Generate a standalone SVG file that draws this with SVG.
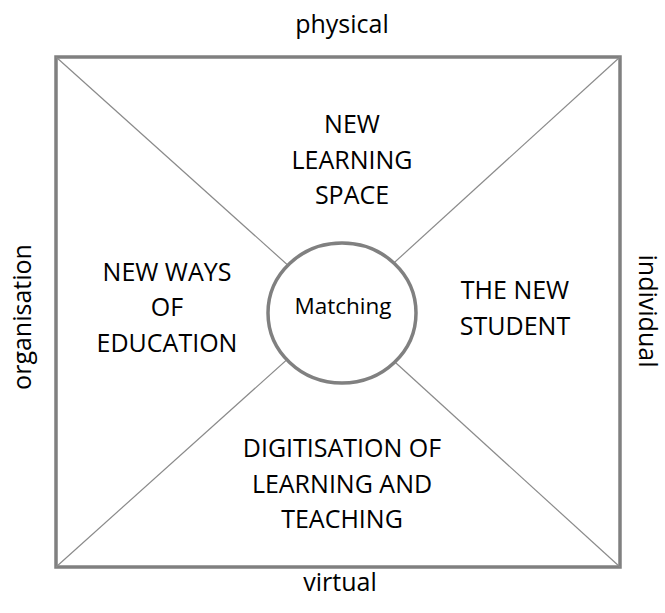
<svg xmlns="http://www.w3.org/2000/svg" width="665" height="613" viewBox="0 0 665 613">
<style>
.t{font-family:"Open Sans","Liberation Sans",sans-serif;font-size:25px;fill:#000;text-anchor:middle}
.l{font-family:"Open Sans","Liberation Sans",sans-serif;font-size:25px;fill:#000;text-anchor:middle}
.d{stroke:#8a8a8a;stroke-width:1.2;fill:none}
</style>
<rect width="665" height="613" fill="#fff"/>
<g id="frame">
<rect x="56" y="57" width="564" height="510" fill="#fff" stroke="#808080" stroke-width="3.5"/>
</g>
<g id="connectors">
<line class="d" x1="56" y1="57" x2="340" y2="312"/>
<line class="d" x1="620" y1="57" x2="340" y2="312"/>
<line class="d" x1="56" y1="567" x2="340" y2="312"/>
<line class="d" x1="620" y1="567" x2="340" y2="312"/>
</g>
<g id="matching">
<ellipse cx="342" cy="313" rx="74" ry="70" fill="#fff" stroke="#808080" stroke-width="3.5"/>
<text class="t" x="343" y="314" style="font-size:22.5px">Matching</text>
</g>
<g id="space">
<text class="t" x="352" y="133">NEW</text>
<text class="t" x="352" y="169">LEARNING</text>
<text class="t" x="352" y="204">SPACE</text>
</g>
<g id="education">
<text class="t" x="167" y="281">NEW WAYS</text>
<text class="t" x="167" y="316">OF</text>
<text class="t" x="167" y="352">EDUCATION</text>
</g>
<g id="student">
<text class="t" x="515" y="299">THE NEW</text>
<text class="t" x="515" y="335">STUDENT</text>
</g>
<g id="digitisation">
<text class="t" x="342" y="457">DIGITISATION OF</text>
<text class="t" x="342" y="493">LEARNING AND</text>
<text class="t" x="342" y="528">TEACHING</text>
</g>
<g id="labels">
<text class="l" x="342" y="33">physical</text>
<text class="l" x="340" y="591">virtual</text>
<text class="l" transform="translate(31,317) rotate(-90)">organisation</text>
<text class="l" transform="translate(639,311) rotate(90)">individual</text>
</g>
</svg>
